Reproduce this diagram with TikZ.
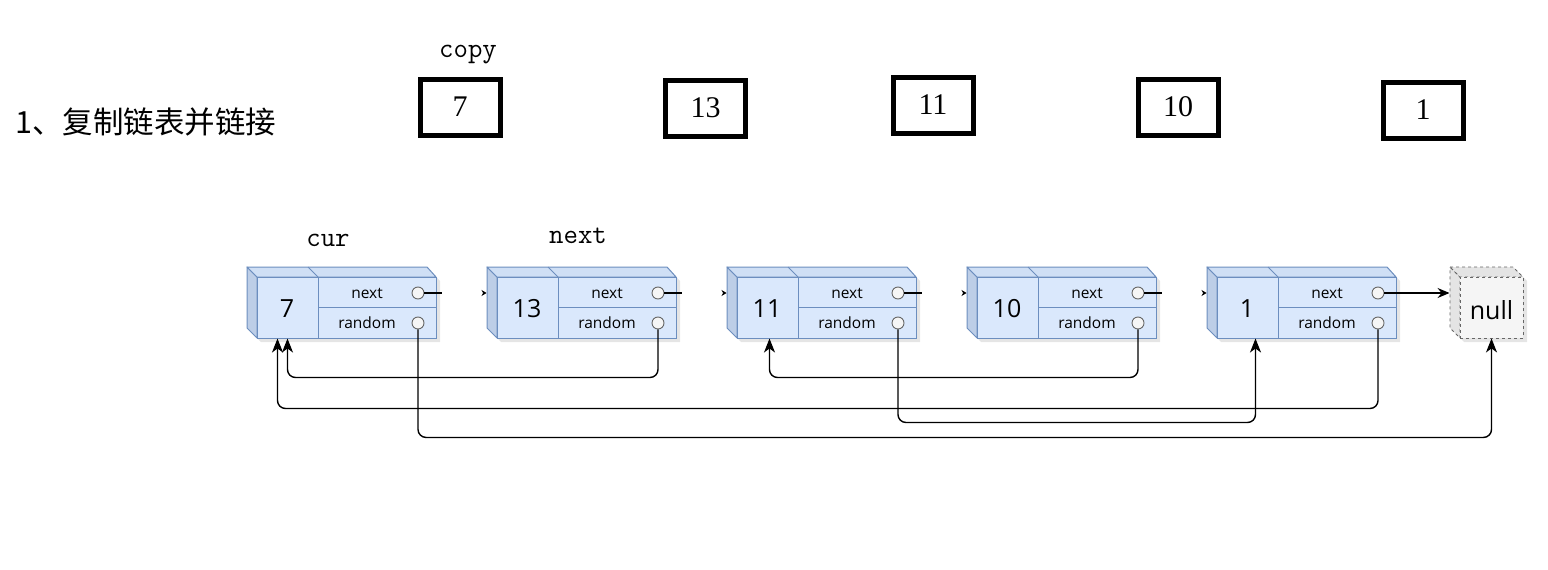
\documentclass[tikz,border=0pt]{standalone}
\usepackage{fontspec}
\setmainfont{Liberation Serif}
\newfontfamily\cjkf{Noto Sans CJK SC}
\newfontfamily\nodef{Open Sans}
\usetikzlibrary{arrows.meta,calc}
\definecolor{nfill}{HTML}{DAE8FC}
\definecolor{nline}{HTML}{6C8EBF}
\definecolor{nside}{HTML}{BDCEE7}
\definecolor{ntop}{HTML}{CFDFF5}
\definecolor{gfill}{HTML}{F5F5F5}
\definecolor{gside}{HTML}{E4E4E4}
\definecolor{gline}{HTML}{666666}
\tikzset{
  front/.style={rectangle,minimum width=179pt,minimum height=61pt,inner sep=0pt,fill=nfill,draw=nline,line width=1pt},
  nullfront/.style={rectangle,minimum width=63pt,minimum height=61pt,inner sep=0pt,fill=gfill,draw=gline,dashed,line width=0.9pt},
  valtext/.style={inner sep=0pt,font=\nodef\fontsize{25}{27}\selectfont},
  fieldtext/.style={inner sep=0pt,font=\nodef\fontsize{15.5}{17}\selectfont},
  circ/.style={circle,minimum size=12pt,inner sep=0pt,fill=gfill,draw=gline,line width=0.9pt},
  copybox/.style={rectangle,minimum width=80pt,minimum height=56pt,inner sep=0pt,draw=black,line width=5pt,font=\fontsize{30}{32}\selectfont},
  lbl/.style={inner sep=0pt,font=\ttfamily\fontsize{28}{30}\selectfont},
  ptr/.style={draw=black,line width=1.4pt,-{Stealth[length=14pt,width=11pt,inset=4pt]}},
  shortnext/.style={draw=black,line width=1.2pt,dash pattern=on 18pt off 60pt,-{Stealth[length=5pt,width=6pt]}},
  nextarr/.style={draw=black,line width=1.4pt,-{Stealth[length=12pt,width=10pt,inset=4pt]}},
  shadowfill/.style={fill=black,opacity=0.10}
}
\newcommand\listnode[3]{%
  \fill[shadowfill] (#2+4,271) -- (#2+184,271) -- (#2+193,281) -- (#2+193,342) -- (#2+14,342) -- (#2+4,332) -- cycle;
  \filldraw[fill=nside,draw=nline,line width=1pt,line join=round] (#2,267) -- (#2+10,277) -- (#2+10,338) -- (#2,328) -- cycle;
  \filldraw[fill=ntop,draw=nline,line width=1pt,line join=round] (#2,267) -- (#2+180,267) -- (#2+189,277) -- (#2+10,277) -- cycle;
  \draw[nline,line width=1pt] (#2+61,267) -- (#2+71,277);
  \node[front] (b#1) at (#2+99.5,307.5) {};
  \draw[nline,line width=1pt] (#2+71,277) -- (#2+71,338) (#2+71,307.5) -- (#2+189,307.5);
  \node[valtext] (v#1) at (#2+40,309) {#3};
  \node[fieldtext] (tn#1) at (#2+120,293) {next};
  \node[fieldtext] (tr#1) at (#2+120,323) {random};
  \node[circ] (n#1) at (#2+171,293) {};
  \node[circ] (r#1) at (#2+171,323) {};
}
\begin{document}
\begin{tikzpicture}[x=1pt,y=-1pt]
\path[use as bounding box,fill=white] (0,0) rectangle (1548,570);
% title
\node[anchor=west,inner sep=0pt,font=\cjkf\fontsize{30.5}{32}\selectfont] (title) at (15,122) {1、复制链表并链接};
\node[lbl] (copy) at (468,55) {copy};
\node[lbl] (cur) at (328,240) {cur};
\node[lbl] (nxt) at (578,236) {next};
% copy boxes
\node[copybox] (k7) at (460,107) {7};
\node[copybox] (k13) at (705.5,108) {13};
\node[copybox] (k11) at (933,105) {11};
\node[copybox] (k10) at (1178,107) {10};
\node[copybox] (k1) at (1423,110) {1};
% list nodes
\listnode{7}{247}{7}
\listnode{13}{487}{13}
\listnode{11}{727}{11}
\listnode{10}{967}{10}
\listnode{1}{1207}{1}
% null cube
\fill[shadowfill] (1454,271) -- (1517,271) -- (1527,281) -- (1527,342) -- (1464,342) -- (1454,332) -- cycle;
\filldraw[fill=gside,draw=gline,dashed,line width=0.9pt] (1450,267) -- (1460,277) -- (1460,338) -- (1450,328) -- cycle;
\filldraw[fill=gside,draw=gline,dashed,line width=0.9pt] (1450,267) -- (1513,267) -- (1523,277) -- (1460,277) -- cycle;
\node[nullfront] (nf) at (1491.5,307.5) {};
\node[valtext] (nulltxt) at (1491.5,310) {null};
% next connectors
\draw[shortnext] (n7.east) -- ($(b13.west |- n7.east)+(-10,0)$);
\draw[shortnext] (n13.east) -- ($(b11.west |- n13.east)+(-10,0)$);
\draw[shortnext] (n11.east) -- ($(b10.west |- n11.east)+(-10,0)$);
\draw[shortnext] (n10.east) -- ($(b1.west |- n10.east)+(-10,0)$);
\draw[nextarr] (n1.east) -- ($(nf.west |- n1.east)+(-10,0)$);
% random pointers
\draw[ptr] (r13.south) {[rounded corners=8pt] |- ($(b7.south west)+(31,39)$) -- ($(b7.south west)+(31,0)$)};
\draw[ptr] (r1.south) {[rounded corners=8pt] |- ($(b7.south west)+(21,70)$) -- ($(b7.south west)+(21,0)$)};
\draw[ptr] (r7.south) {[rounded corners=8pt] |- ($(nf.south)+(0,99)$) -- (nf.south)};
\draw[ptr] (r10.south) {[rounded corners=8pt] |- ($(b11.south west)+(33,39)$) -- ($(b11.south west)+(33,0)$)};
\draw[ptr] (r11.south) {[rounded corners=8pt] |- ($(b1.south west)+(39,84)$) -- ($(b1.south west)+(39,0)$)};
\end{tikzpicture}
\end{document}
